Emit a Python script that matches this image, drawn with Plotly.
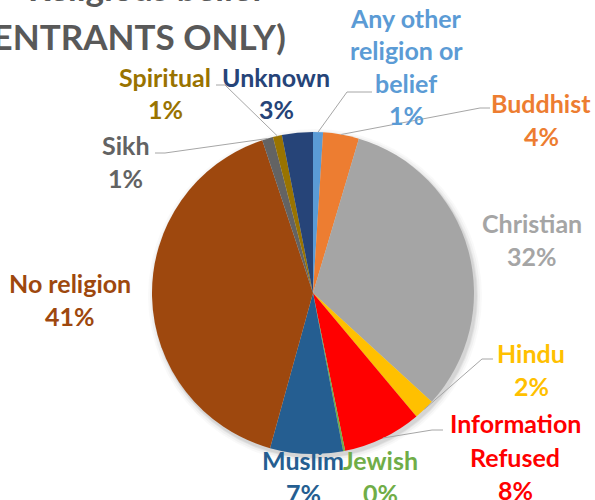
import math
import plotly.graph_objects as go

# ---- data ----
categories = ["Any other religion or belief", "Buddhist", "Christian", "Hindu",
              "Information Refused", "Jewish", "Muslim", "No religion", "Sikh",
              "Spiritual", "Unknown"]
values = [1.0, 3.6, 32.2, 2.1, 7.9, 0.2, 7.3, 40.6, 1.1, 0.9, 3.1]
label_lines = [["Any other", "religion or", "belief"], ["Buddhist"], ["Christian"],
               ["Hindu"], ["Information", "Refused"], ["Jewish"], ["Muslim"],
               ["No religion"], ["Sikh"], ["Spiritual"], ["Unknown"]]
title_lines = ["Religious belief", "(ENTRANTS ONLY)"]

# ---- styles / layout ----
colors = ["#5B9BD5", "#ED7D31", "#A5A5A5", "#FFC000", "#FF0000", "#70AD47",
          "#255E91", "#9E480E", "#636363", "#997300", "#264478"]
W, H = 595, 500
CX, CY, R = 313, 293, 161    # pixel geometry of the pie
FONT = "Lato"
FS = 25
LS = 32.5  # label line spacing (px)

# label first-line centre positions (px)
label_pos = [(406, 18), (541, 103), (532, 223), (531, 353), (515, 423), (381, 460),
             (303, 460), (70, 283), (125, 145), (165, 77), (276, 77)]
# leader lines: index -> points (px) from the label side toward the pie
leaders = {0: [(372, 92), (347, 92)],
           1: [(490, 108), (480, 108)],
           3: [(493, 359), (482, 359)],
           4: [(443, 430), (432, 430)],
           8: [(155, 153), (165, 153)],
           9: [(216, 85), (225, 85)]}


def px(x):
    return x / W


def py(y):
    return 1 - y / H


fig = go.Figure()
fig.add_trace(go.Pie(
    labels=categories, values=values, sort=False, direction="clockwise",
    rotation=0, marker=dict(colors=colors, line=dict(width=0)),
    textinfo="none", hoverinfo="label+percent", showlegend=False,
    domain=dict(x=[px(CX - R), px(CX + R)], y=[py(CY + R), py(CY - R)]),
))

shapes = []
# soft shadow
for k, a in [(6, 0.025), (4, 0.035), (2, 0.05), (1, 0.06)]:
    dx, dy = 2, 3
    shapes.append(dict(type="circle", xref="paper", yref="paper", layer="below",
                       x0=px(CX - R - k + dx), x1=px(CX + R + k + dx),
                       y0=py(CY + R + k + dy), y1=py(CY - R - k + dy),
                       line=dict(width=0), fillcolor=f"rgba(0,0,0,{a})"))

# leader lines anchored at slice mid-angles
total = sum(values)
cum = 0
mids = []
for v in values:
    mids.append((cum + v / 2) / total * 2 * math.pi)
    cum += v
for i, pts in leaders.items():
    ang = mids[i]
    ax, ay = CX + R * math.sin(ang), CY - R * math.cos(ang)
    allpts = pts + [(ax, ay)]
    path = "M " + " L ".join(f"{px(x):.5f},{py(y):.5f}" for x, y in allpts)
    shapes.append(dict(type="path", xref="paper", yref="paper", path=path,
                       line=dict(color="#A6A6A6", width=1)))

annotations = []
for i, lines in enumerate(label_lines):
    lx, ly = label_pos[i]
    pct = f"{values[i] / total * 100:.0f}%"
    sp = 33.5 if i == 4 else LS
    for j, t in enumerate(lines + [pct]):
        annotations.append(dict(
            text=t, x=px(lx), y=py(ly + j * sp),
            xref="paper", yref="paper", showarrow=False,
            xanchor="center", yanchor="middle",
            font=dict(family=FONT, size=FS, color=colors[i], weight="bold")))

# title (partly outside the visible area)
annotations.append(dict(text=title_lines[0], x=px(266), y=py(-13), xref="paper",
                        yref="paper", showarrow=False, xanchor="right",
                        yanchor="middle",
                        font=dict(family=FONT, size=35, color="#595959", weight="bold")))
annotations.append(dict(text=title_lines[1], x=px(288), y=py(36), xref="paper",
                        yref="paper", showarrow=False, xanchor="right",
                        yanchor="middle",
                        font=dict(family=FONT, size=35, color="#595959", weight="bold")))

fig.update_layout(width=W, height=H, margin=dict(l=0, r=0, t=0, b=0),
                  paper_bgcolor="white", plot_bgcolor="white",
                  shapes=shapes, annotations=annotations)
fig.write_html("out.html", config={"displayModeBar": False},
               post_script="document.body.style.margin='0';"
                           "document.documentElement.style.overflow='hidden';")
